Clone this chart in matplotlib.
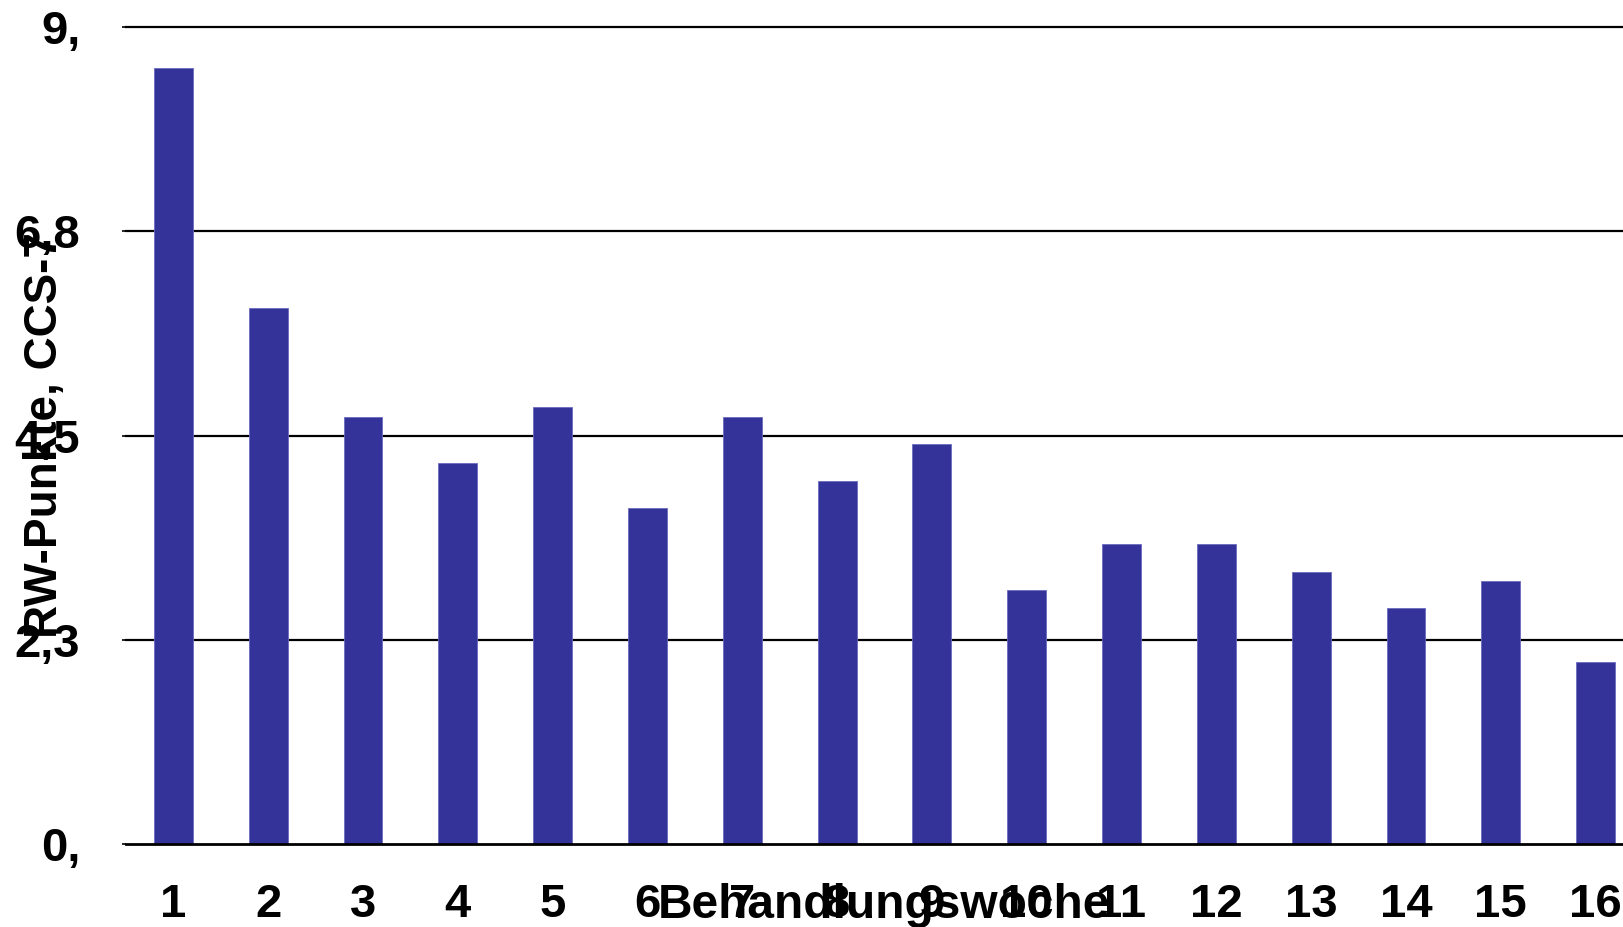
import matplotlib
matplotlib.use("Agg")
import matplotlib.pyplot as plt

weeks = list(range(1, 17))
scores = [8.55, 5.91, 4.70, 4.20, 4.81, 3.70, 4.70, 4.00, 4.41, 2.80, 3.30, 3.30, 3.00, 2.60, 2.90, 2.00]
yticks = [0, 2.25, 4.5, 6.75, 9]
ytick_labels = ["0,", "2,3", "4,5", "6,8", "9,"]
xlabel = "Behandlungswoche"
ylabel = "RW-Punkte, CCS-7"

W, H = 1624, 927
fig = plt.figure(figsize=(W / 100, H / 100), dpi=100)
ax = fig.add_axes([126 / W, (H - 844) / H, (1643 - 126) / W, (844 - 27) / H])

for y in yticks[1:]:
    ax.axhline(y, color="black", lw=1.6, zorder=1, clip_on=False)
ax.bar(weeks, scores, width=0.41, color="#333399", edgecolor="#6b6bbf", linewidth=0.6, zorder=2)

ax.set_xlim(0.5, 16.5)
ax.set_ylim(0, 9)
for s in ["top", "right", "left"]:
    ax.spines[s].set_visible(False)
ax.spines["bottom"].set_linewidth(2)
ax.spines["bottom"].set_zorder(3)

ax.set_yticks(yticks)
ax.set_yticklabels(ytick_labels, family="Liberation Sans", weight="bold", size=34)
ax.set_xticks(weeks)
ax.set_xticklabels([str(w) for w in weeks], family="Liberation Sans", weight="bold", size=34)
ax.tick_params(axis="y", length=3, width=1.2, pad=30)
ax.tick_params(axis="x", length=0, pad=28)

fig.text(884 / W, 1 - 918 / H, xlabel, ha="center", va="baseline",
         family="Liberation Sans", weight="bold", size=34.5)
fig.text(45 / W, 1 - 435 / H, ylabel, ha="center", va="center", rotation=90,
         family="Liberation Sans", weight="bold", size=33)

fig.savefig("out.png", dpi=100)
